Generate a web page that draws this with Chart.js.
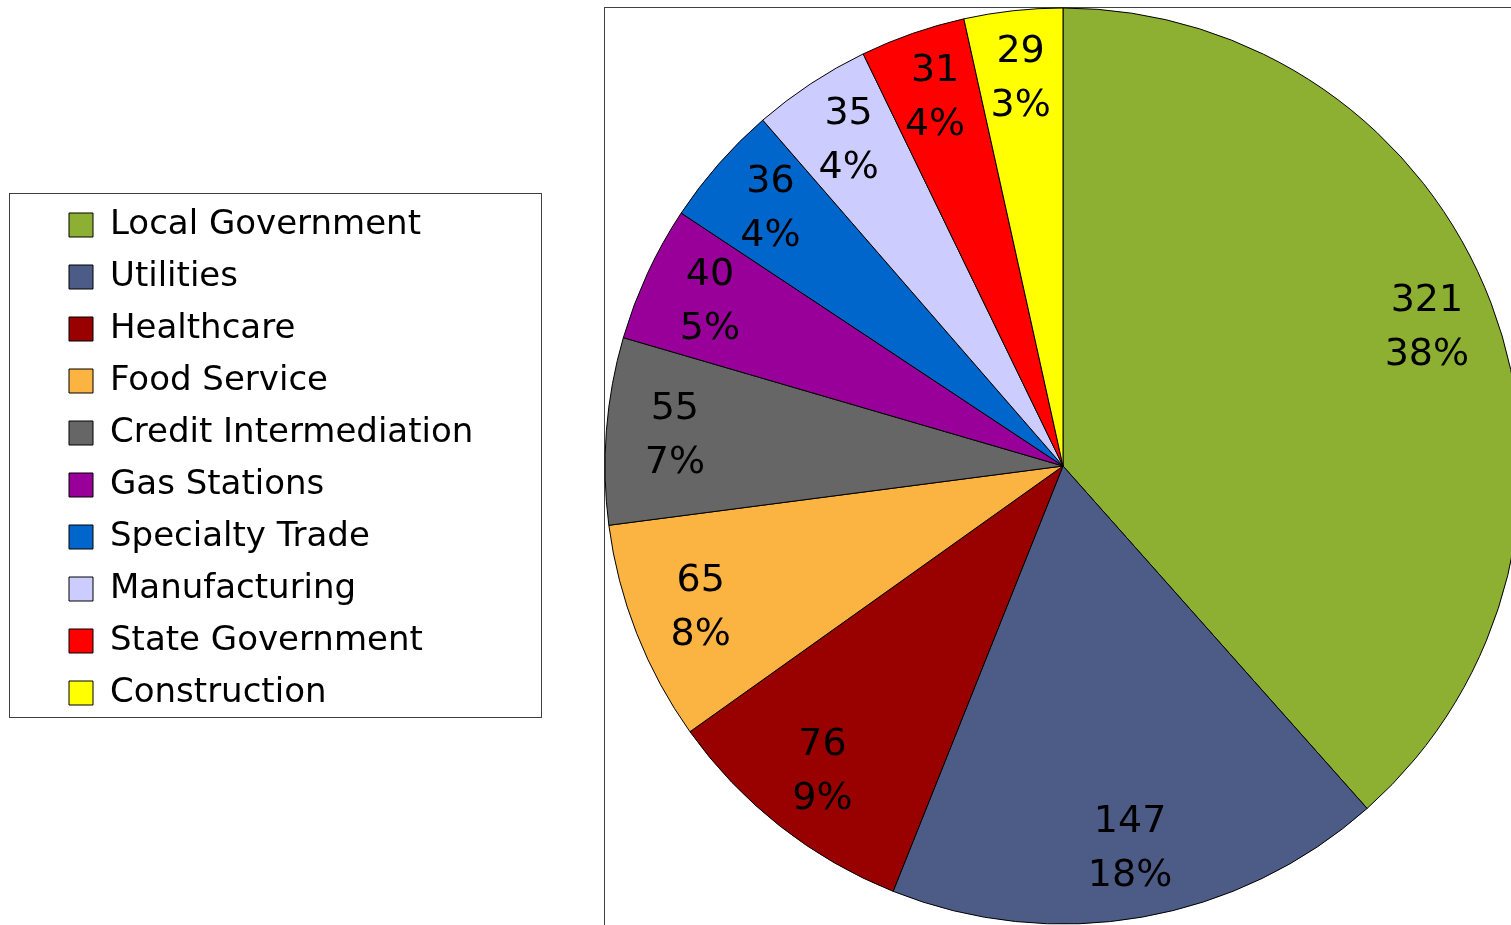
<!DOCTYPE html>
<html>
<head>
<meta charset="utf-8">
<script src="https://cdn.jsdelivr.net/npm/chart.js@4.4.1/dist/chart.umd.min.js"></script>
<style>
  html, body { margin: 0; padding: 0; background: #fff; }
  #wrap { width: 1511px; height: 925px; position: relative; }
</style>
</head>
<body>
<div id="wrap"><canvas id="myChart"></canvas></div>
<script>
// data
var categories = ['Local Government', 'Utilities', 'Healthcare', 'Food Service', 'Credit Intermediation',
  'Gas Stations', 'Specialty Trade', 'Manufacturing', 'State Government', 'Construction'];
var counts = [321, 147, 76, 65, 55, 40, 36, 35, 31, 29];
var sliceColors = ['#8db033', '#4d5c87', '#990000', '#fbb342', '#666666',
  '#990099', '#0066cc', '#ccccff', '#ff0000', '#ffff00'];

var FONT = 'DejaVu Sans';
var PIE_RADIUS = 458;

var total = counts.reduce(function (a, b) { return a + b; }, 0);

// widen the legend so the pie sits where it should
var legendWidthPlugin = {
  id: 'legendWidth',
  beforeInit: function (chart) {
    var origFit = chart.legend.fit;
    chart.legend.fit = function () {
      origFit.bind(chart.legend)();
      this.width = 564;
    };
  },
  afterLayout: function (chart) {
    chart.legend.top -= 14;
  }
};

// frame around the plot area and the legend
var framesPlugin = {
  id: 'frames',
  beforeDatasetsDraw: function (chart) {
    var ctx = chart.ctx;
    var arc = chart.getDatasetMeta(0).data[0];
    var p = arc.getProps(['x', 'y', 'outerRadius'], true);
    ctx.save();
    ctx.strokeStyle = '#404040';
    ctx.lineWidth = 1;
    ctx.strokeRect(Math.round(p.x - p.outerRadius) - 0.5, Math.round(p.y - p.outerRadius) - 0.5, 2000, 2000);
    ctx.restore();
  },
  afterDraw: function (chart) {
    var ctx = chart.ctx;
    ctx.save();
    ctx.strokeStyle = '#404040';
    ctx.lineWidth = 1;
    ctx.strokeRect(9.5, 193.5, 532, 524);
    ctx.restore();
  }
};

// value + percent labels inside each slice
var sliceLabelsPlugin = {
  id: 'sliceLabels',
  afterDatasetsDraw: function (chart) {
    var ctx = chart.ctx;
    var meta = chart.getDatasetMeta(0);
    ctx.save();
    ctx.font = '38px "' + FONT + '"';
    ctx.fillStyle = '#000';
    ctx.textAlign = 'center';
    ctx.textBaseline = 'middle';
    meta.data.forEach(function (arc, i) {
      var p = arc.getProps(['x', 'y', 'startAngle', 'endAngle', 'outerRadius'], true);
      var mid = (p.startAngle + p.endAngle) / 2;
      var r = p.outerRadius * 0.85;
      var lx = p.x + Math.cos(mid) * r;
      var ly = p.y + Math.sin(mid) * r;
      var pct = Math.round(counts[i] / total * 100) + '%';
      ctx.fillText(String(counts[i]), lx, ly - 27);
      ctx.fillText(pct, lx, ly + 27);
    });
    ctx.restore();
  }
};

var ctx = document.getElementById('myChart').getContext('2d');
var myChart = new Chart(ctx, {
  type: 'pie',
  data: {
    labels: categories,
    datasets: [{
      data: counts,
      backgroundColor: sliceColors,
      borderColor: '#000000',
      borderWidth: 1,
      radius: PIE_RADIUS,
      hoverOffset: 0
    }]
  },
  options: {
    responsive: true,
    maintainAspectRatio: false,
    animation: false,
    events: [],
    layout: {
      padding: { left: 51, right: 0, top: 8, bottom: 1 }
    },
    plugins: {
      tooltip: { enabled: false },
      legend: {
        display: true,
        position: 'left',
        align: 'center',
        labels: {
          boxWidth: 24,
          boxHeight: 24,
          padding: 18,
          color: '#000',
          font: { family: FONT, size: 34 }
        }
      }
    }
  },
  plugins: [legendWidthPlugin, framesPlugin, sliceLabelsPlugin]
});
</script>
</body>
</html>
